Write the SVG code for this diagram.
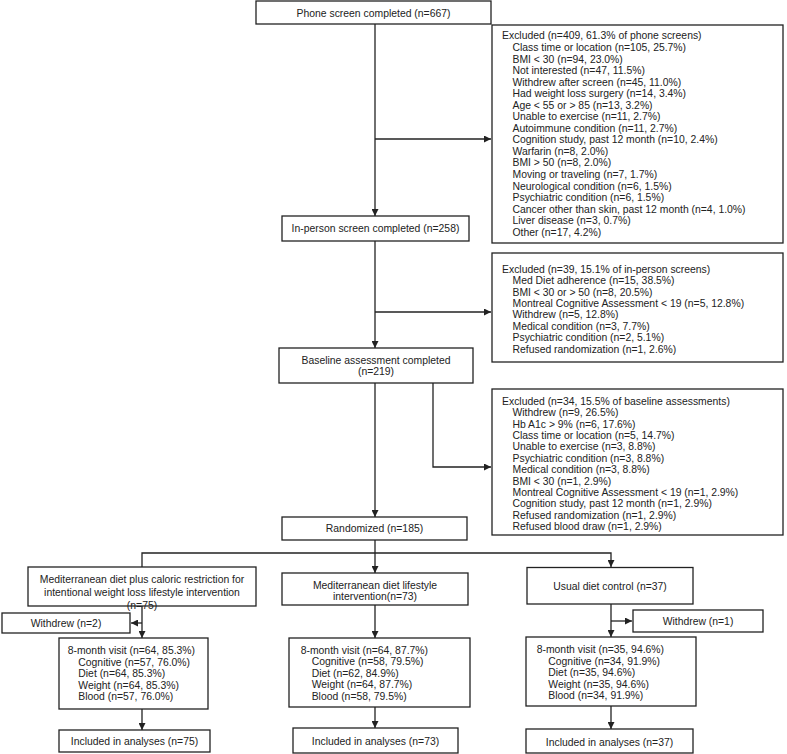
<svg xmlns="http://www.w3.org/2000/svg" width="787" height="754" viewBox="0 0 787 754">
<defs>
<marker id="ah" viewBox="0 0 10 10" refX="10" refY="5" markerWidth="7" markerHeight="7" markerUnits="userSpaceOnUse" orient="auto">
<path d="M0,0 L10,5 L0,10 z" fill="#222"/>
</marker>
<style>
rect{fill:#fff;stroke:#222;stroke-width:1.3}
text{font-family:"Liberation Sans",Arial,sans-serif;font-size:10.4px;fill:#222}
.c{text-anchor:middle}
.ln{fill:none;stroke:#222;stroke-width:1.3}
.ar{fill:none;stroke:#222;stroke-width:1.3;marker-end:url(#ah)}
</style>
</defs>
<rect x="0" y="0" width="787" height="754" style="fill:#fff;stroke:none"/>
<g id="connectors">
<path class="ar" d="M375,24 V216"/>
<path class="ar" d="M375,139 H491"/>
<path class="ar" d="M375,241 V348"/>
<path class="ar" d="M375,312 H491"/>
<path class="ar" d="M375,383 V517"/>
<path class="ar" d="M375,381 H433 V467 H491"/>
<path class="ar" d="M375,540 V573"/>
<path class="ar" d="M142,567 V553 H611 V567"/>
<path class="ar" d="M142,606 V638"/>
<path class="ar" d="M142,623 H131"/>
<path class="ar" d="M142,709 V730"/>
<path class="ar" d="M375,605 V638"/>
<path class="ar" d="M375,707 V728"/>
<path class="ar" d="M611,604 V637"/>
<path class="ar" d="M611,621 H632"/>
<path class="ar" d="M611,706 V729"/>
</g>
<g id="phone">
<rect x="256" y="1" width="235" height="23"/>
<text class="c" x="373.5" y="17">Phone screen completed (n=667)</text>
</g>
<g id="excluded1">
<rect x="492" y="25" width="291" height="218"/>
<text x="502" y="39.4">Excluded (n=409, 61.3% of phone screens)<tspan x="512.5" dy="11.55">Class time or location (n=105, 25.7%)</tspan><tspan x="512.5" dy="11.55">BMI &lt; 30 (n=94, 23.0%)</tspan><tspan x="512.5" dy="11.55">Not interested (n=47, 11.5%)</tspan><tspan x="512.5" dy="11.55">Withdrew after screen (n=45, 11.0%)</tspan><tspan x="512.5" dy="11.55">Had weight loss surgery (n=14, 3.4%)</tspan><tspan x="512.5" dy="11.55">Age &lt; 55 or &gt; 85 (n=13, 3.2%)</tspan><tspan x="512.5" dy="11.55">Unable to exercise (n=11, 2.7%)</tspan><tspan x="512.5" dy="11.55">Autoimmune condition (n=11, 2.7%)</tspan><tspan x="512.5" dy="11.55">Cognition study, past 12 month (n=10, 2.4%)</tspan><tspan x="512.5" dy="11.55">Warfarin (n=8, 2.0%)</tspan><tspan x="512.5" dy="11.55">BMI &gt; 50 (n=8, 2.0%)</tspan><tspan x="512.5" dy="11.55">Moving or traveling (n=7, 1.7%)</tspan><tspan x="512.5" dy="11.55">Neurological condition (n=6, 1.5%)</tspan><tspan x="512.5" dy="11.55">Psychiatric condition (n=6, 1.5%)</tspan><tspan x="512.5" dy="11.55">Cancer other than skin, past 12 month (n=4, 1.0%)</tspan><tspan x="512.5" dy="11.55">Liver disease (n=3, 0.7%)</tspan><tspan x="512.5" dy="11.55">Other (n=17, 4.2%)</tspan></text>
</g>
<g id="inperson">
<rect x="282" y="216" width="187" height="25"/>
<text class="c" x="375.5" y="232.2">In-person screen completed (n=258)</text>
</g>
<g id="excluded2">
<rect x="492" y="253" width="291" height="109"/>
<text x="502" y="272.7">Excluded (n=39, 15.1% of in-person screens)<tspan x="512.5" dy="11.4">Med Diet adherence (n=15, 38.5%)</tspan><tspan x="512.5" dy="11.4">BMI &lt; 30 or &gt; 50 (n=8, 20.5%)</tspan><tspan x="512.5" dy="11.4">Montreal Cognitive Assessment &lt; 19 (n=5, 12.8%)</tspan><tspan x="512.5" dy="11.4">Withdrew (n=5, 12.8%)</tspan><tspan x="512.5" dy="11.4">Medical condition (n=3, 7.7%)</tspan><tspan x="512.5" dy="11.4">Psychiatric condition (n=2, 5.1%)</tspan><tspan x="512.5" dy="11.4">Refused randomization (n=1, 2.6%)</tspan></text>
</g>
<g id="baseline">
<rect x="279" y="348" width="194" height="35"/>
<text class="c" x="376" y="363.7">Baseline assessment completed</text>
<text class="c" x="376" y="375.4">(n=219)</text>
</g>
<g id="excluded3">
<rect x="492" y="389" width="291" height="146"/>
<text x="502" y="404.7">Excluded (n=34, 15.5% of baseline assessments)<tspan x="512.5" dy="11.4">Withdrew (n=9, 26.5%)</tspan><tspan x="512.5" dy="11.4">Hb A1c &gt; 9% (n=6, 17.6%)</tspan><tspan x="512.5" dy="11.4">Class time or location (n=5, 14.7%)</tspan><tspan x="512.5" dy="11.4">Unable to exercise (n=3, 8.8%)</tspan><tspan x="512.5" dy="11.4">Psychiatric condition (n=3, 8.8%)</tspan><tspan x="512.5" dy="11.4">Medical condition (n=3, 8.8%)</tspan><tspan x="512.5" dy="11.4">BMI &lt; 30 (n=1, 2.9%)</tspan><tspan x="512.5" dy="11.4">Montreal Cognitive Assessment &lt; 19 (n=1, 2.9%)</tspan><tspan x="512.5" dy="11.4">Cognition study, past 12 month (n=1, 2.9%)</tspan><tspan x="512.5" dy="11.4">Refused randomization (n=1, 2.9%)</tspan><tspan x="512.5" dy="11.4">Refused blood draw (n=1, 2.9%)</tspan></text>
</g>
<g id="randomized">
<rect x="282" y="517" width="185" height="23"/>
<text class="c" x="374.5" y="532.2">Randomized (n=185)</text>
</g>
<g id="armA">
<rect x="28" y="567" width="228" height="39"/>
<text class="c" x="142" y="583">Mediterranean diet plus caloric restriction for</text>
<text class="c" x="142" y="596.4">intentional weight loss lifestyle intervention</text>
<text class="c" x="142" y="608.7">(n=75)</text>
</g>
<g id="withdrewA">
<rect x="2" y="613" width="128" height="20"/>
<text class="c" x="66" y="626.5">Withdrew (n=2)</text>
</g>
<g id="visitA">
<rect x="59" y="638" width="149" height="71"/>
<text x="67.7" y="654.4">8-month visit (n=64, 85.3%)<tspan x="78.3" dy="11.5">Cognitive (n=57, 76.0%)</tspan><tspan x="78.3" dy="11.5">Diet (n=64, 85.3%)</tspan><tspan x="78.3" dy="11.5">Weight (n=64, 85.3%)</tspan><tspan x="78.3" dy="11.5">Blood (n=57, 76.0%)</tspan></text>
</g>
<g id="includedA">
<rect x="59" y="730" width="151" height="22"/>
<text class="c" x="134.5" y="745.4">Included in analyses (n=75)</text>
</g>
<g id="armB">
<rect x="282" y="573" width="186" height="32"/>
<text class="c" x="375" y="588.7">Mediterranean diet lifestyle</text>
<text class="c" x="375" y="600.2">intervention(n=73)</text>
</g>
<g id="visitB">
<rect x="289" y="638" width="181" height="69"/>
<text x="300.7" y="653.7">8-month visit (n=64, 87.7%)<tspan x="311.7" dy="11.5">Cognitive (n=58, 79.5%)</tspan><tspan x="311.7" dy="11.5">Diet (n=62, 84.9%)</tspan><tspan x="311.7" dy="11.5">Weight (n=64, 87.7%)</tspan><tspan x="311.7" dy="11.5">Blood (n=58, 79.5%)</tspan></text>
</g>
<g id="includedB">
<rect x="293" y="728" width="165" height="25"/>
<text class="c" x="375.5" y="745.2">Included in analyses (n=73)</text>
</g>
<g id="armC">
<rect x="527" y="567.5" width="166" height="36.5"/>
<text class="c" x="610" y="589.7">Usual diet control (n=37)</text>
</g>
<g id="withdrewC">
<rect x="633" y="610" width="130" height="22"/>
<text class="c" x="698" y="625">Withdrew (n=1)</text>
</g>
<g id="visitC">
<rect x="526" y="637" width="170" height="69"/>
<text x="536.7" y="653">8-month visit (n=35, 94.6%)<tspan x="548.3" dy="11.5">Cognitive (n=34, 91.9%)</tspan><tspan x="548.3" dy="11.5">Diet (n=35, 94.6%)</tspan><tspan x="548.3" dy="11.5">Weight (n=35, 94.6%)</tspan><tspan x="548.3" dy="11.5">Blood (n=34, 91.9%)</tspan></text>
</g>
<g id="includedC">
<rect x="526" y="729" width="167" height="24"/>
<text class="c" x="609.5" y="745.5">Included in analyses (n=37)</text>
</g>
</svg>
